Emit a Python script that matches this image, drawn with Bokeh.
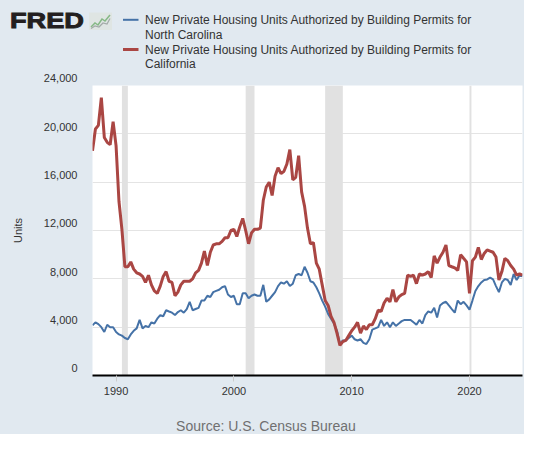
import pandas as pd
from bokeh.plotting import figure
from bokeh.layouts import column
from bokeh.models import (Range1d, FixedTicker, NumeralTickFormatter, DatetimeTickFormatter, Div)
from bokeh.embed import file_html
from bokeh.resources import INLINE

# ---------------- data (quarterly, units) ----------------
dates = pd.date_range("1988-01-01", periods=147, freq="QS")

north_carolina = [
    4150, 4400, 4250, 4000,  3600, 4200, 4000, 4000,  3600, 3400, 3300, 3100,
    3000, 3400, 3700, 3900,  4600, 3900, 4100, 4000,  4400, 4300, 4700, 5000,
    4900, 5400, 5300, 5200,  5000, 5250, 5400, 5200,  5500, 6100, 5400, 5500,
    5600, 6200, 6200, 6600,  6500, 6900, 7000, 7100,  7300, 7400, 6700, 6500,
    6600, 5900, 5900, 6800,  6800, 6400, 6600, 6700,  6600, 6600, 7500, 6100,
    6300, 6600, 6900, 7400,  7700, 7600, 7800, 7400,  7600, 8300, 8400, 8300,
    9000, 8500, 7800, 7700,  7300, 6800, 6200, 5700,  5100, 4700, 4300, 3700,
    2600, 2900, 2900, 3100,  3300, 3000, 2900, 3000,  2700, 2600, 3000, 3800,
    3900, 4000, 4600, 4100,  4400, 4000, 4400, 4100,  4300, 4500, 4600, 4600,
    4600, 4400, 4200, 4600,  4300, 5000, 5300, 5200,  5600, 4800, 5800, 6000,
    6100, 5800, 5500, 5200,  6200, 5900, 6100, 5800,  5450, 6200, 7000, 7400,
    7700, 7900, 7950, 8100,  7950, 7400, 6900, 7700,  8000, 7900, 7500, 8400,
    7900, 8300, 8200,
]

california = [
    18600, 20400, 20700, 23000,  19700, 19300, 19100, 21000,  19000, 14400, 12100, 9000,
    9000, 9400, 8800, 8500,      8400, 8200, 7700, 8300,      7500, 7000, 6800, 7400,
    8200, 8600, 7800, 7700,      6600, 6900, 7500, 7800,      7800, 7800, 8000, 8500,
    8700, 9300, 10300, 9100,     10200, 10800, 10900, 10900,  11100, 11400, 11400, 12000,
    12100, 11500, 12300, 13000,  12000, 10900, 11800, 12100,  12100, 12200, 14500, 15600,
    16000, 14900, 16500, 17200,  16700, 16900, 17500, 18700,  16200, 16400, 18200, 15200,
    14000, 12200, 10900, 11000,  9300, 8800, 7500, 6200,      5800, 4900, 4400, 3500,
    2500, 2800, 2900, 3300,      3700, 4000, 4400, 3500,      4100, 3800, 4200, 4200,
    4700, 5400, 5300, 6000,      6400, 6100, 7100, 6100,      6500, 6700, 6800, 8300,
    8200, 8300, 7600, 8400,      8300, 8400, 8600, 8100,      9900, 9300, 9800, 10200,
    10800, 9100, 9000, 8900,     8700, 10000, 9700, 9400,     6800, 9500, 9800, 10600,
    9600, 10100, 10400, 10300,   10200, 9800, 7900, 8600,     9700, 9500, 9100, 8800,
    8300, 8400, 8300,
]

recession_start = pd.to_datetime(["1990-07-01", "2001-01-01", "2007-10-01", "2020-01-01"])
recession_end = pd.to_datetime(["1991-01-01", "2001-10-01", "2009-04-01", "2020-03-01"])

y_ticks = [0, 4000, 8000, 12000, 16000, 20000, 24000]
x_tick_years = ["1990-01-01", "2000-01-01", "2010-01-01", "2020-01-01"]

series_names = [
    ["New Private Housing Units Authorized by Building Permits for", "North Carolina"],
    ["New Private Housing Units Authorized by Building Permits for", "California"],
]
logo_text = "FRED"
source_text = "Source: U.S. Census Bureau"
y_title = "Units"

# ---------------- styles / layout ----------------
NC_COLOR = "#4572a7"
CA_COLOR = "#aa4643"
BG = "#e1e9f0"
FONT = "Liberation Sans"
W = 524
HEADER_H, MAIN_H, FOOTER_H = 70, 335, 29

# ---------------- header: logo + legend ----------------
parts = [f'<svg xmlns="http://www.w3.org/2000/svg" width="{W}" height="{HEADER_H}" '
         f'style="display:block">',
         f'<rect x="0" y="0" width="{W}" height="{HEADER_H}" fill="{BG}"/>',
         f'<text x="10" y="28.3" font-family="DejaVu Sans" font-weight="bold" '
         f'font-size="22.5" fill="#231f20" stroke="#231f20" stroke-width="0.9" '
         f'textLength="74" lengthAdjust="spacingAndGlyphs">{logo_text}</text>',
         '<rect x="89" y="12.5" width="23" height="17.5" fill="#dfe5e3"/>',
         '<polyline points="91,27 95,23 98,25 102,19 105,21 110,15" fill="none" '
         'stroke="#86b886" stroke-width="1.5"/>',
         '<polyline points="91,28.5 95,26 99,27 103,23 107,24 110,18.5" fill="none" '
         'stroke="#a3aaa8" stroke-width="1.2"/>']
legend_y = [(19.8, 35.3), (49.5, 64.4)]
for names, (y1, y2), col, lw in zip(series_names, legend_y, [NC_COLOR, CA_COLOR], [2, 3]):
    parts.append(f'<line x1="123" y1="{y1}" x2="138.5" y2="{y1}" stroke="{col}" '
                 f'stroke-width="{lw}"/>')
    for txt, yy in zip(names, [y1 + 0.6, y2]):
        parts.append(f'<text x="145" y="{yy}" font-family="{FONT}" font-size="12" '
                     f'fill="#333333" dominant-baseline="central">{txt}</text>')
parts.append('</svg>')
head = Div(text="".join(parts), width=W, height=HEADER_H, margin=(0, 0, 0, 0),
           styles={"background-color": BG})

# ---------------- main chart ----------------
p = figure(width=W, height=MAIN_H, x_axis_type="datetime", output_backend="svg",
           toolbar_location=None,
           x_range=Range1d(dates[0], dates[-1]), y_range=Range1d(y_ticks[0], y_ticks[-1]),
           min_border_left=92, min_border_right=2, min_border_top=15, min_border_bottom=30,
           background_fill_color="white", border_fill_color=BG)
p.outline_line_color = None

p.quad(left=recession_start, right=recession_end, bottom=y_ticks[0], top=y_ticks[-1],
       fill_color="#e1e1e1", line_color=None)
p.line(dates, north_carolina, line_color=NC_COLOR, line_width=2)
p.line(dates, california, line_color=CA_COLOR, line_width=3)

p.xgrid.grid_line_color = None
p.ygrid.grid_line_color = "#e4e4e4"
p.ygrid.ticker = FixedTicker(ticks=y_ticks)

p.xaxis.ticker = FixedTicker(ticks=[pd.Timestamp(t).value // 10**6 for t in x_tick_years])
p.xaxis.formatter = DatetimeTickFormatter(years="%Y", months="%Y", days="%Y", hours="%Y")
p.xaxis.axis_line_color = "black"
p.xaxis.axis_line_width = 2
p.xaxis.major_tick_line_color = "#cccccc"
p.xaxis.major_tick_out = 6
p.xaxis.major_tick_in = 0
p.xaxis.minor_tick_line_color = None
p.xaxis.major_label_standoff = 5
p.xaxis.major_label_text_font = FONT
p.xaxis.major_label_text_font_size = "11px"
p.xaxis.major_label_text_color = "#333333"

p.yaxis.ticker = FixedTicker(ticks=y_ticks)
p.yaxis.formatter = NumeralTickFormatter(format="0,0")
# labels sit slightly above their grid lines, as in the original
p.yaxis.major_label_overrides = {t: f"{t:,}\n" for t in y_ticks}
p.yaxis.axis_line_color = None
p.yaxis.major_tick_line_color = None
p.yaxis.major_tick_out = 0
p.yaxis.major_tick_in = 0
p.yaxis.minor_tick_line_color = None
p.yaxis.minor_tick_out = 0
p.yaxis.major_label_standoff = 15
p.yaxis.major_label_text_font = FONT
p.yaxis.major_label_text_font_size = "11px"
p.yaxis.major_label_text_color = "#333333"
p.yaxis.axis_label = y_title
p.yaxis.axis_label_text_font = FONT
p.yaxis.axis_label_text_font_size = "11px"
p.yaxis.axis_label_text_font_style = "normal"
p.yaxis.axis_label_text_color = "#333333"
p.yaxis.axis_label_standoff = 17

# ---------------- footer: source ----------------
foot = Div(text=(f'<svg xmlns="http://www.w3.org/2000/svg" width="{W}" height="{FOOTER_H}" '
                 f'style="display:block"><rect x="0" y="0" width="{W}" height="{FOOTER_H}" '
                 f'fill="{BG}"/><text x="266" y="20.5" font-family="{FONT}" font-size="14" '
                 f'fill="#707070" text-anchor="middle" dominant-baseline="central">'
                 f'{source_text}</text></svg>'),
           width=W, height=FOOTER_H, margin=(0, 0, 0, 0),
           styles={"background-color": BG})

layout = column(head, p, foot, spacing=0, styles={"background-color": BG})
open("out.html", "w").write(file_html(layout, INLINE))
